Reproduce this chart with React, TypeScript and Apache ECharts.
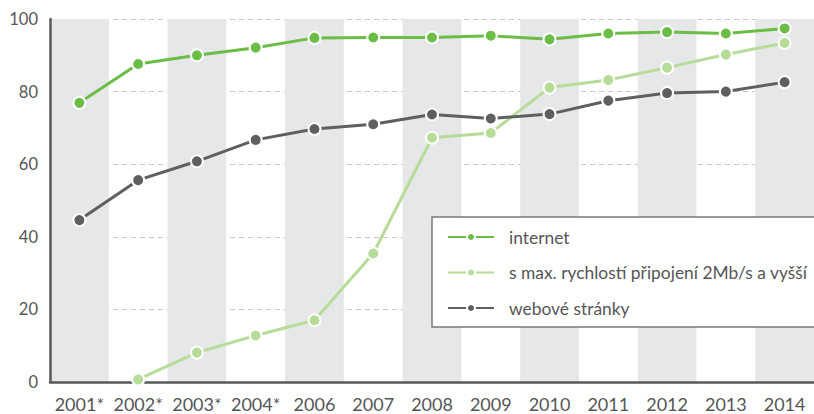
import React, { useEffect, useRef } from "react";
import * as echarts from "echarts";

const categories = ["2001*", "2002*", "2003*", "2004*", "2006", "2007", "2008", "2009", "2010", "2011", "2012", "2013", "2014"];
const internet = [76.9, 87.6, 90.0, 92.1, 94.8, 94.9, 94.9, 95.4, 94.4, 96.0, 96.4, 96.0, 97.4];
const speed2mb = [null, 0.7, 8.1, 12.8, 17.0, 35.4, 67.3, 68.6, 81.1, 83.2, 86.6, 90.2, 93.4];
const websites = [44.6, 55.6, 60.8, 66.7, 69.7, 71.0, 73.7, 72.6, 73.8, 77.5, 79.6, 80.0, 82.6];
const yTicks = { min: 0, max: 100, interval: 20 };

const FONT = "Lato, 'Noto Sans', sans-serif";
const TEXT = "#555657";

export default function App() {
  const ref = useRef<HTMLDivElement>(null);
  useEffect(() => {
    document.body.style.margin = "0";
    const chart = echarts.init(ref.current!, null, { renderer: "svg" });
    const mk = (name: string, data: (number | null)[], color: string) => ({
      name,
      type: "line",
      data,
      symbol: "circle",
      symbolSize: 12,
      showSymbol: true,
      lineStyle: { color, width: 3 },
      itemStyle: { color, borderColor: "#ffffff", borderWidth: 2 },
      emphasis: { disabled: true },
    });
    chart.setOption({
      animation: false,
      textStyle: { fontFamily: FONT },
      grid: { left: 50, right: 0, top: 19, bottom: 32, containLabel: false },
      legend: {
        orient: "vertical",
        left: 432,
        top: 217,
        padding: [10, 300, 9, 15],
        backgroundColor: "#ffffff",
        borderColor: "#7a7a7a",
        borderWidth: 1.5,
        itemWidth: 46,
        itemHeight: 10,
        itemGap: 15.5,
        textStyle: { fontFamily: FONT, fontSize: 17.4, color: TEXT, lineHeight: 20, padding: [0, 0, 0, 10] },
        data: ["internet", "s max. rychlostí připojení 2Mb/s a vyšší", "webové stránky"],
      },
      xAxis: {
        type: "category",
        data: categories,
        boundaryGap: true,
        axisLine: { show: true, lineStyle: { color: "#58595b", width: 2.5 } },
        axisTick: { show: false },
        axisLabel: { color: TEXT, fontSize: 18, margin: 13, fontFamily: FONT, interval: 0 },
        splitLine: { show: false },
        splitArea: { show: true, interval: 0, areaStyle: { color: ["#e6e7e8", "rgba(255,255,255,0)"] } },
      },
      yAxis: {
        type: "value",
        min: yTicks.min,
        max: yTicks.max,
        interval: yTicks.interval,
        axisLine: { show: true, lineStyle: { color: "#58595b", width: 2.5 } },
        axisTick: { show: false },
        axisLabel: { color: TEXT, fontSize: 16.5, margin: 12, fontFamily: FONT },
        splitLine: { show: true, lineStyle: { color: "#c8c8c8", type: [5, 4], width: 1 } },
      },
      series: [
        mk("internet", internet, "#6cbd45"),
        mk("s max. rychlostí připojení 2Mb/s a vyšší", speed2mb, "#b6dc98"),
        mk("webové stránky", websites, "#5e5f61"),
      ],
    });
    return () => chart.dispose();
  }, []);
  return <div ref={ref} style={{ width: 814, height: 414 }} />;
}
